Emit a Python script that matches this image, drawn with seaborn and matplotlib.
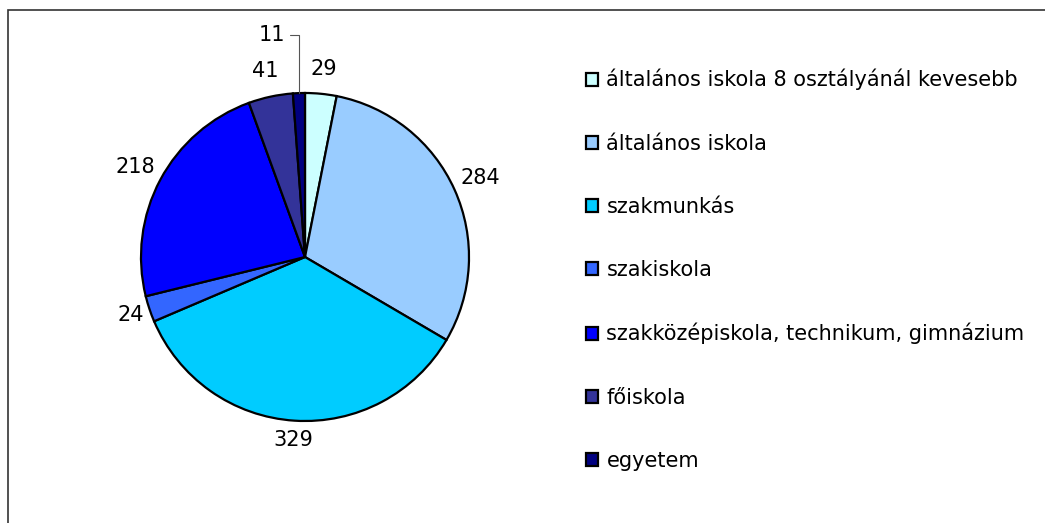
import matplotlib
matplotlib.use("Agg")
import matplotlib.pyplot as plt
from matplotlib.patches import Rectangle
import seaborn as sns
import numpy as np

# data
categories = [
    "általános iskola 8 osztályánál kevesebb",
    "általános iskola",
    "szakmunkás",
    "szakiskola",
    "szakközépiskola, technikum, gimnázium",
    "főiskola",
    "egyetem",
]
values = [29, 284, 329, 24, 218, 41, 11]
colors = ["#CCFFFF", "#99CCFF", "#00CCFF", "#3366FF", "#0000FF", "#333399", "#000080"]

# radial distance of each value label (in pie radii), None -> leader line
label_dist = [1.15, 1.17, 1.12, 1.12, 1.17, 1.16, None]

sns.set_theme(style="white")
plt.rcParams["font.family"] = ["DejaVu Sans"]
plt.rcParams["text.color"] = "black"
fs = 15

W, H = 1045, 523
fig = plt.figure(figsize=(W / 100, H / 100), dpi=100)
fig.patch.set_facecolor("white")

# chart frame (only left and top edges are visible in the picture)
fig.add_artist(Rectangle((8 / W, -0.1), 1.2, 1.1 - 10 / H, transform=fig.transFigure,
                         fill=False, edgecolor="#333333", linewidth=1.2))

ax = fig.add_axes([141 / W, (H - 421) / H, 328 / W, 328 / H])
wedges, _ = ax.pie(values, colors=colors, startangle=90, counterclock=False,
                   wedgeprops=dict(edgecolor="black", linewidth=1.6))
ax.set_xlim(-1, 1)
ax.set_ylim(-1, 1)

for w, v, d in zip(wedges, values, label_dist):
    ang = np.deg2rad((w.theta1 + w.theta2) / 2)
    if d is None:
        ax.annotate(str(v), xy=(np.cos(ang), np.sin(ang)), xytext=(-10, 42),
                    textcoords="offset points", ha="right", va="center", fontsize=fs,
                    color="black",
                    arrowprops=dict(arrowstyle="-", color="#555555", lw=0.8,
                                    connectionstyle="angle,angleA=0,angleB=90",
                                    shrinkA=1, shrinkB=0))
    else:
        ax.text(d * np.cos(ang), d * np.sin(ang), str(v), ha="center", va="center",
                fontsize=fs, color="black")

fig.legend(wedges, categories, loc="upper left", bbox_to_anchor=(586 / W, 1 - 69 / H),
           frameon=False, fontsize=fs, handlelength=0.58, handleheight=0.58,
           handletextpad=0.4, labelspacing=2.07, borderaxespad=0, borderpad=0,
           labelcolor="black")

fig.savefig("out.png", dpi=100)
